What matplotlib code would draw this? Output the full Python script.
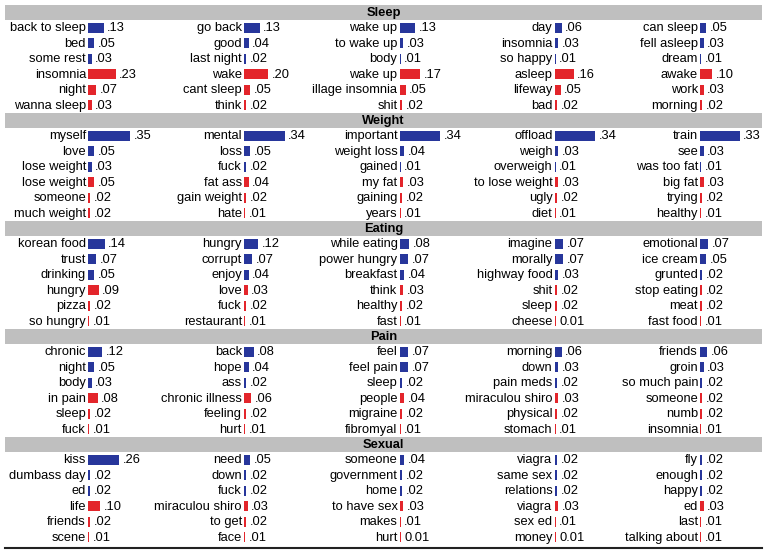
import numpy as np
import matplotlib
matplotlib.use('Agg')
import matplotlib.pyplot as plt

plt.rcParams['font.family'] = ['Liberation Sans', 'DejaVu Sans']

# topics (section headers)
topics = ['Sleep', 'Weight', 'Eating', 'Pain', 'Sexual']

# words per topic, five columns of six rows (first three blue, last three red)
sleep_words = [
    ['back to sleep', 'bed', 'some rest', 'insomnia', 'night', 'wanna sleep'],
    ['go back', 'good', 'last night', 'wake', 'cant sleep', 'think'],
    ['wake up', 'to wake up', 'body', 'wake up', 'illage insomnia', 'shit'],
    ['day', 'insomnia', 'so happy', 'asleep', 'lifeway', 'bad'],
    ['can sleep', 'fell asleep', 'dream', 'awake', 'work', 'morning'],
]
sleep_vals = [
    ['.13', '.05', '.03', '.23', '.07', '.03'],
    ['.13', '.04', '.02', '.20', '.05', '.02'],
    ['.13', '.03', '.01', '.17', '.05', '.02'],
    ['.06', '.03', '.01', '.16', '.05', '.02'],
    ['.05', '.03', '.01', '.10', '.03', '.02'],
]

weight_words = [
    ['myself', 'love', 'lose weight', 'lose weight', 'someone', 'much weight'],
    ['mental', 'loss', 'fuck', 'fat ass', 'gain weight', 'hate'],
    ['important', 'weight loss', 'gained', 'my fat', 'gaining', 'years'],
    ['offload', 'weigh', 'overweigh', 'to lose weight', 'ugly', 'diet'],
    ['train', 'see', 'was too fat', 'big fat', 'trying', 'healthy'],
]
weight_vals = [
    ['.35', '.05', '.03', '.05', '.02', '.02'],
    ['.34', '.05', '.02', '.04', '.02', '.01'],
    ['.34', '.04', '.01', '.03', '.02', '.01'],
    ['.34', '.03', '.01', '.03', '.02', '.01'],
    ['.33', '.03', '.01', '.03', '.02', '.01'],
]

eating_words = [
    ['korean food', 'trust', 'drinking', 'hungry', 'pizza', 'so hungry'],
    ['hungry', 'corrupt', 'enjoy', 'love', 'fuck', 'restaurant'],
    ['while eating', 'power hungry', 'breakfast', 'think', 'healthy', 'fast'],
    ['imagine', 'morally', 'highway food', 'shit', 'sleep', 'cheese'],
    ['emotional', 'ice cream', 'grunted', 'stop eating', 'meat', 'fast food'],
]
eating_vals = [
    ['.14', '.07', '.05', '.09', '.02', '.01'],
    ['.12', '.07', '.04', '.03', '.02', '.01'],
    ['.08', '.07', '.04', '.03', '.02', '.01'],
    ['.07', '.07', '.03', '.02', '.02', '0.01'],
    ['.07', '.05', '.02', '.02', '.02', '.01'],
]

pain_words = [
    ['chronic', 'night', 'body', 'in pain', 'sleep', 'fuck'],
    ['back', 'hope', 'ass', 'chronic illness', 'feeling', 'hurt'],
    ['feel', 'feel pain', 'sleep', 'people', 'migraine', 'fibromyal'],
    ['morning', 'down', 'pain meds', 'miraculou shiro', 'physical', 'stomach'],
    ['friends', 'groin', 'so much pain', 'someone', 'numb', 'insomnia'],
]
pain_vals = [
    ['.12', '.05', '.03', '.08', '.02', '.01'],
    ['.08', '.04', '.02', '.06', '.02', '.01'],
    ['.07', '.07', '.02', '.04', '.02', '.01'],
    ['.06', '.03', '.02', '.03', '.02', '.01'],
    ['.06', '.03', '.02', '.02', '.02', '.01'],
]

sexual_words = [
    ['kiss', 'dumbass day', 'ed', 'life', 'friends', 'scene'],
    ['need', 'down', 'fuck', 'miraculou shiro', 'to get', 'face'],
    ['someone', 'government', 'home', 'to have sex', 'makes', 'hurt'],
    ['viagra', 'same sex', 'relations', 'viagra', 'sex ed', 'money'],
    ['fly', 'enough', 'happy', 'ed', 'last', 'talking about'],
]
sexual_vals = [
    ['.26', '.02', '.02', '.10', '.02', '.01'],
    ['.05', '.02', '.02', '.03', '.02', '.01'],
    ['.04', '.02', '.02', '.03', '.01', '0.01'],
    ['.02', '.02', '.02', '.03', '.01', '0.01'],
    ['.02', '.02', '.02', '.03', '.01', '.01'],
]

all_words = [sleep_words, weight_words, eating_words, pain_words, sexual_words]
all_vals = [sleep_vals, weight_vals, eating_vals, pain_vals, sexual_vals]

#----------------------------------------------------------------------
#   layout (pixel coordinates)
W, H = 768, 555
left, right = 5, 762
top = 5
head_h = 15.0
row_h = 15.5
sec_h = head_h + 6 * row_h
col_x = [88, 244, 399.5, 554.5, 700]
scale = 120.     # px per unit of value
bar_h = 10.
blue = '#27369b'
red = '#e3252b'
gray = '#bfbfbf'
fs = 9.3

fig = plt.figure(figsize=(W / 100, H / 100), dpi=100)
ax = fig.add_axes([0, 0, 1, 1])
ax.set_xlim(0, W)
ax.set_ylim(H, 0)
ax.axis('off')

for s, topic in enumerate(topics):
    y0 = top + s * sec_h
    ax.barh(y0 + head_h / 2, right - left, height=head_h, left=left,
            color=gray, linewidth=0)
    ax.text((left + right) / 2, y0 + head_h / 2 + 0.5, topic, ha='center', va='center',
            fontsize=fs, fontweight='bold')
    for c in range(5):
        words = all_words[s][c]
        vals = all_vals[s][c]
        ys = y0 + head_h + row_h / 2 + np.arange(6) * row_h
        widths = np.array([float(v) for v in vals]) * scale
        colors = [blue] * 3 + [red] * 3
        ax.barh(ys, widths, height=bar_h, left=col_x[c], color=colors, linewidth=0)
        for r in range(6):
            ax.text(col_x[c] - 2, ys[r] + 0.5, words[r], ha='right', va='center', fontsize=fs)
            ax.text(col_x[c] + widths[r] + 3.5, ys[r] + 0.5, vals[r], ha='left', va='center', fontsize=fs)

# bottom rule
ybot = top + 5 * sec_h + 3
ax.plot([left, right], [ybot, ybot], color='#222222', linewidth=1.5)

fig.savefig('out.png', dpi=100)
